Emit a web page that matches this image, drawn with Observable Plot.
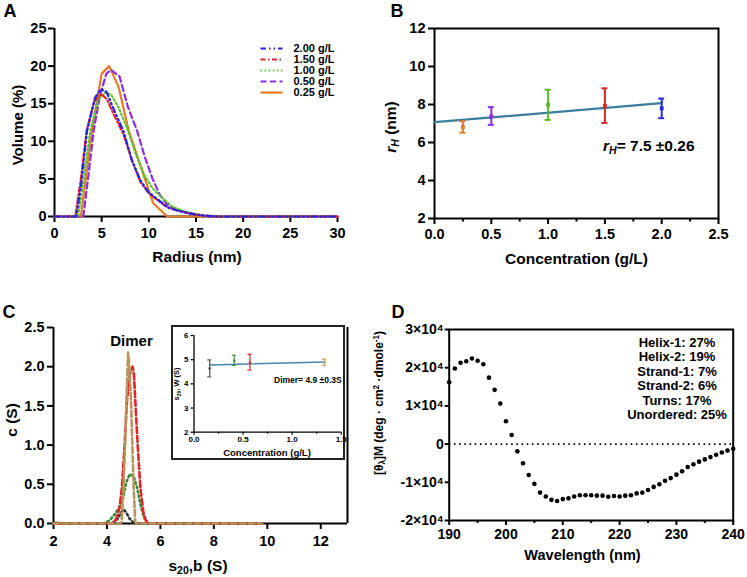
<!DOCTYPE html>
<html>
<head>
<meta charset="utf-8">
<script src="https://cdn.jsdelivr.net/npm/d3@7"></script>
<script src="https://cdn.jsdelivr.net/npm/@observablehq/plot@0.6"></script>
<style>
  html, body { margin: 0; padding: 0; background: #fff; }
  #fig { position: relative; width: 747px; height: 577px; overflow: hidden;
         font-family: "Liberation Sans", Arial, Helvetica, sans-serif; font-weight: bold; color: #000; background: #fff; }
  #fig svg text { font-weight: 700 !important; font-family: "Liberation Sans", Arial, sans-serif !important; }
  .lbl { position: absolute; white-space: nowrap; line-height: 1; }
  .lbl sub, .lbl sup { font-size: 0.68em; line-height: 0; position: relative; vertical-align: baseline; }
  .lbl sub { top: 0.3em; }
  .lbl sup { top: -0.45em; }
  #insetBox { position: absolute; box-sizing: border-box; border: 2px solid #222; background: #fff; }
</style>
</head>
<body>
<div id="fig"><div id="insetBox"></div></div>
<script>
// ---------------- DATA ----------------
// Panel A: DLS volume distributions
const seriesA = ["2.00 g/L", "1.50 g/L", "1.00 g/L", "0.50 g/L", "0.25 g/L"];
const radius200 = [0, 2.3, 2.8, 3.45, 4.3, 4.9, 5.5, 6.2, 7.3, 8.2, 9.1, 10.0, 11.0, 12.0, 13.0, 14.0, 15.0, 16.0, 17.5, 30];
const volume200 = [0, 0, 4, 11.4, 15.8, 16.9, 16.6, 14.5, 11.4, 7.5, 4.8, 3.2, 2.2, 1.2, 0.8, 0.5, 0.25, 0.1, 0, 0];
const radius150 = [0, 2.2, 2.8, 3.4, 4.2, 5.0, 5.6, 6.3, 7.3, 8.2, 9.1, 10.0, 11.0, 12.0, 13.0, 14.0, 15.0, 16.0, 17.0, 30];
const volume150 = [0, 0, 5, 11.4, 15.3, 16.3, 15.5, 13.5, 11.0, 7.5, 4.6, 3.1, 2.1, 1.2, 0.8, 0.5, 0.25, 0.1, 0, 0];
const radius100 = [0, 2.5, 3.1, 3.8, 4.6, 5.4, 6.0, 6.8, 7.8, 8.7, 9.6, 10.5, 11.5, 12.5, 13.5, 14.5, 15.5, 17.0, 18.0, 30];
const volume100 = [0, 0, 5, 11.4, 15.5, 16.5, 16.2, 14.5, 11.4, 8.0, 5.3, 3.6, 2.4, 1.3, 0.8, 0.4, 0.2, 0.05, 0, 0];
const radius050 = [0, 3.05, 3.6, 4.15, 4.8, 5.5, 6.0, 6.9, 7.8, 8.75, 9.6, 10.4, 11.2, 12.0, 13.0, 14.0, 15.0, 16.0, 17.0, 30];
const volume050 = [0, 0, 5.5, 11.4, 16.0, 19.0, 19.5, 18.6, 14.5, 11.4, 7.8, 5.0, 2.8, 1.5, 0.9, 0.5, 0.3, 0.1, 0, 0];
const radius025 = [0, 2.8, 3.97, 5.0, 5.8, 6.8, 7.87, 10.45, 11.95, 30];
const volume025 = [0, 0, 11.4, 19.0, 20.0, 17.2, 11.4, 1.8, 0, 0];
const xTicksA = [0, 5, 10, 15, 20, 25, 30];
const yTicksA = [0, 5, 10, 15, 20, 25];

// Panel B: hydrodynamic radius vs concentration
const concB = [0.25, 0.5, 1.0, 1.5, 2.0];
const rH = [6.81, 7.38, 7.98, 7.93, 7.80];
const rHLow = [6.52, 6.93, 7.19, 7.03, 7.28];
const rHHigh = [7.12, 7.86, 8.78, 8.85, 8.31];
const fitConcB = [0, 2.0];
const fitRH = [7.07, 8.07];
const xTicksB = [0, 0.5, 1.0, 1.5, 2.0, 2.5];
const xMinorB = [0.25, 0.75, 1.25, 1.75, 2.25];
const yTicksB = [2, 4, 6, 8, 10, 12];

// Panel C: sedimentation coefficient distributions
const sTan = [2.0, 4.5, 4.55, 4.62, 4.68, 4.73, 4.79, 4.84, 4.9, 4.95, 5.0, 5.06, 5.1, 9.8];
const cTan = [0, 0, 0.02, 0.46, 1.0, 1.57, 2.18, 2.0, 1.57, 1.0, 0.46, 0.02, 0, 0];
const sRed = [2.0, 4.2, 4.35, 4.47, 4.56, 4.66, 4.75, 4.85, 4.96, 5.01, 5.06, 5.15, 5.25, 5.36, 5.45, 5.55, 9.8];
const cRed = [0, 0, 0.06, 0.2, 0.46, 1.0, 1.57, 1.9, 2.0, 1.9, 1.57, 1.0, 0.46, 0.15, 0.04, 0, 0];
const sGreen = [2.0, 2.1, 2.2, 3.9, 4.1, 4.3, 4.45, 4.6, 4.72, 4.85, 5.0, 5.12, 5.25, 5.38, 5.5, 5.7, 9.8];
const cGreen = [0, 0.02, 0, 0, 0.04, 0.12, 0.2, 0.32, 0.52, 0.63, 0.6, 0.47, 0.25, 0.08, 0.01, 0, 0];
const sDark = [2.0, 4.2, 4.4, 4.55, 4.63, 4.72, 4.85, 5.0, 5.1, 9.8];
const cDark = [0, 0, 0.06, 0.15, 0.18, 0.14, 0.06, 0.01, 0, 0];
const xTicksC = [2, 4, 6, 8, 10, 12];
const yTicksC = [0, 0.5, 1.0, 1.5, 2.0, 2.5];

// Panel C inset: s20,w vs concentration
const concInset = [0.16, 0.41, 0.57, 1.33];
const sW = [4.64, 4.96, 4.87, 4.89];
const sWLow = [4.29, 4.76, 4.57, 4.77];
const sWHigh = [4.99, 5.18, 5.22, 5.02];
const fitConcInset = [0.16, 1.33];
const fitSW = [4.78, 4.90];
const xTicksInset = [0, 0.5, 1.0, 1.5];
const xMinorInset = [0.25, 0.75, 1.25];
const yTicksInset = [2, 3, 4, 5, 6];

// Panel D: CD spectrum
const wavelength = [190,191,192,193,194,195,196,197,198,199,200,201,202,203,204,205,206,207,208,209,210,
  211,212,213,214,215,216,217,218,219,220,221,222,223,224,225,226,227,228,229,230,
  231,232,233,234,235,236,237,238,239,240];
const ellipticity = [16200,19800,21300,21700,22400,21800,20900,17400,14200,10600,6000,2400,-1900,-5000,-8100,-10400,-12700,-13700,-14600,-14900,-14400,
  -14200,-13700,-13400,-13400,-13400,-13500,-13500,-13800,-13600,-13700,-13500,-13400,-12900,-12700,-12000,-11200,-10500,-9600,-8900,-8000,
  -7100,-6000,-5300,-4600,-4000,-3400,-2800,-2200,-1700,-1200];
const xTicksD = [190, 200, 210, 220, 230, 240];
const xMinorD = [195, 205, 215, 225, 235];
const yTicksD = [-20000, -10000, 0, 10000, 20000, 30000];
const structureLabels = ["Helix-1: 27%", "Helix-2: 19%", "Strand-1: 7%", "Strand-2: 6%", "Turns: 17%", "Unordered: 25%"];

// ---------------- HELPERS ----------------
const fig = document.getElementById("fig");
const FONT = '"Liberation Sans", Arial, Helvetica, sans-serif';
function sty(size) {
  return {fontFamily: FONT, fontSize: size + "px", fontWeight: "bold", color: "#000", background: "transparent", overflow: "visible"};
}
function place(node, left, top) {
  node.style.position = "absolute";
  node.style.left = left + "px";
  node.style.top = top + "px";
  fig.appendChild(node);
  return node;
}
function label(html, x, y, size, opts = {}) {
  const d = document.createElement("div");
  d.className = "lbl";
  d.innerHTML = html;
  d.style.left = x + "px";
  d.style.top = y + "px";
  d.style.fontSize = size + "px";
  let t = opts.anchor === "start" ? "translate(0,-50%)" : "translate(-50%,-50%)";
  if (opts.rotate) t += " rotate(-90deg)";
  d.style.transform = t;
  fig.appendChild(d);
  return d;
}
const zipRows = (xs, ys) => xs.map((x, i) => ({x, y: ys[i]}));
const fmt1 = d3.format(".1f");
const fmt0 = d3.format("d");

// ---------------- PANEL A ----------------
const colorsA = ["#2323e8", "#e2262b", "#5cc12f", "#8d2ce0", "#e57b26"];
const dashA = ["5.5,3,1.5,3,1.5,3", "5,2.5,1.5,2.5", "1.5,2.6", "6,3.5", null];
const rowsA = [
  zipRows(radius200, volume200), zipRows(radius150, volume150), zipRows(radius100, volume100),
  zipRows(radius050, volume050), zipRows(radius025, volume025)
];
const plotA = Plot.plot({
  width: 375, height: 290,
  marginLeft: 54, marginRight: 38, marginTop: 28, marginBottom: 74,
  x: {domain: [0, 30]}, y: {domain: [0, 25]},
  style: sty(14.5),
  marks: [
    Plot.ruleX([0], {stroke: "#000", strokeWidth: 2}),
    Plot.ruleY([0], {stroke: "#000", strokeWidth: 2}),
    Plot.axisX({ticks: xTicksA, tickSize: 6, tickPadding: 5, strokeWidth: 2, fontWeight: "bold", label: null}),
    Plot.axisY({ticks: yTicksA, tickSize: 6, tickPadding: 2, strokeWidth: 2, fontWeight: "bold", label: null}),
    ...[4, 3, 2, 1, 0].map(i => Plot.line(rowsA[i], {x: "x", y: "y", stroke: colorsA[i], strokeDasharray: dashA[i], strokeWidth: 2.2}))
  ]
});
place(plotA, 0, 0);

const legendA = Plot.plot({
  width: 110, height: 72, marginLeft: 0, marginRight: 0, marginTop: 0, marginBottom: 0,
  x: {domain: [0, 1], range: [2, 24], axis: null},
  y: {type: "point", domain: seriesA, range: [7.3, 62.7], axis: null},
  style: sty(11),
  marks: [
    ...seriesA.map((name, i) => Plot.link([name], {x1: () => 0, x2: () => 1, y1: d => d, y2: d => d,
      stroke: colorsA[i], strokeDasharray: dashA[i], strokeWidth: 2.2})),
    Plot.text(seriesA, {x: () => 1, y: d => d, text: d => d, textAnchor: "start", dx: 11, fontWeight: "bold"})
  ]
});
place(legendA, 258, 35);

label("Volume (%)", 16.5, 125, 15, {rotate: true});
label("Radius (nm)", 197, 257, 15.5);
label("A", 10, 11, 18);

// ---------------- PANEL B ----------------
const colorsB = ["#e5782a", "#8d2ce0", "#5cb82a", "#d8262a", "#2a2ae6"];
const rowsB = concB.map((c, i) => ({c, r: rH[i], lo: rHLow[i], hi: rHHigh[i], k: i}));
const plotB = Plot.plot({
  width: 372, height: 290,
  marginLeft: 59, marginRight: 29, marginTop: 28, marginBottom: 72,
  x: {domain: [0, 2.5]}, y: {domain: [2, 12]},
  style: sty(14.5),
  marks: [
    Plot.frame({stroke: "#000", strokeWidth: 2}),
    Plot.axisX({ticks: xTicksB, tickFormat: fmt1, tickSize: 6, tickPadding: 4, strokeWidth: 2, fontWeight: "bold", label: null}),
    Plot.axisX({ticks: xMinorB, tickFormat: () => "", tickSize: 3.5, strokeWidth: 2, label: null}),
    Plot.axisY({ticks: yTicksB, tickFormat: fmt0, tickSize: 6, tickPadding: 3, strokeWidth: 2, fontWeight: "bold", label: null}),
    Plot.line(zipRows(fitConcB, fitRH), {x: "x", y: "y", stroke: "#3b7d9c", strokeWidth: 2.2}),
    Plot.ruleX(rowsB, {x: "c", y1: "lo", y2: "hi", stroke: d => colorsB[d.k], strokeWidth: 2}),
    Plot.ruleY(rowsB, {y: "lo", x1: "c", x2: "c", insetLeft: -3, insetRight: -3, stroke: d => colorsB[d.k], strokeWidth: 2}),
    Plot.ruleY(rowsB, {y: "hi", x1: "c", x2: "c", insetLeft: -3, insetRight: -3, stroke: d => colorsB[d.k], strokeWidth: 2}),
    Plot.dot(rowsB, {x: "c", y: "r", symbol: "square", r: 2.2, fill: d => colorsB[d.k], stroke: "none"})
  ]
});
place(plotB, 375, 0);

label("<i>r</i><sub><i>H</i></sub> (nm)", 391, 127, 15.5, {rotate: true});
label("Concentration (g/L)", 576.5, 259, 15.5);
label("<i>r</i><sub><i>H</i></sub>= 7.5 ±0.26", 603, 146, 15.5, {anchor: "start"});
label("B", 397, 11, 18);

// ---------------- PANEL C ----------------
const linesC = [
  {rows: zipRows(sGreen, cGreen), color: "#2f8a2f", dash: "1.6,3"},
  {rows: zipRows(sDark, cDark), color: "#333333", dash: "1.6,3"},
  {rows: zipRows(sRed, cRed), color: "#e3262a", dash: "6,3"},
  {rows: zipRows(sTan, cTan), color: "#b8955c", dash: "6,3"}
];
const plotC = Plot.plot({
  width: 375, height: 287,
  marginLeft: 53, marginRight: 28, marginTop: 37, marginBottom: 54,
  x: {domain: [2, 13]}, y: {domain: [0, 2.5]},
  style: sty(14.5),
  marks: [
    Plot.ruleX([2], {stroke: "#000", strokeWidth: 2}),
    Plot.ruleX([13], {stroke: "#000", strokeWidth: 2}),
    Plot.ruleY([0], {stroke: "#000", strokeWidth: 2}),
    Plot.axisX({ticks: xTicksC, tickFormat: fmt0, tickSize: 6, tickPadding: 6, strokeWidth: 2, fontWeight: "bold", label: null}),
    Plot.axisY({ticks: yTicksC, tickFormat: fmt1, tickSize: 6, tickPadding: 3, strokeWidth: 2, fontWeight: "bold", label: null}),
    ...linesC.map(s => Plot.line(s.rows, {x: "x", y: "y", stroke: s.color, strokeDasharray: s.dash, strokeWidth: 2.6}))
  ]
});
place(plotC, 0, 290);

label("c (S)", 12, 420, 15.5, {rotate: true});
label("Dimer", 131.5, 340, 15);
label("s<sub>20</sub>,b (S)", 198, 566, 15.5);
label("C", 9, 312, 18);

// Inset
const box = document.getElementById("insetBox");
box.style.left = "171px"; box.style.top = "325px"; box.style.width = "174px"; box.style.height = "135px";
const colorsInset = ["#555555", "#3a9a3a", "#e02424", "#c9a060"];
const rowsInset = concInset.map((c, i) => ({c, s: sW[i], lo: sWLow[i], hi: sWHigh[i], k: i}));
const plotInset = Plot.plot({
  width: 173, height: 134,
  marginLeft: 22.5, marginRight: 3.3, marginTop: 10, marginBottom: 27.3,
  x: {domain: [0, 1.5]}, y: {domain: [2, 6]},
  style: sty(8),
  marks: [
    Plot.ruleX([0], {stroke: "#000", strokeWidth: 1.3}),
    Plot.ruleY([2], {stroke: "#000", strokeWidth: 1.3}),
    Plot.axisX({ticks: xTicksInset, tickFormat: fmt1, tickSize: 3, tickPadding: 1.5, strokeWidth: 1.2, fontWeight: "bold", label: null}),
    Plot.axisX({ticks: xMinorInset, tickFormat: () => "", tickSize: 2, strokeWidth: 1.2, label: null}),
    Plot.axisY({ticks: yTicksInset, tickFormat: fmt0, tickSize: 3, tickPadding: 2.5, strokeWidth: 1.2, fontWeight: "bold", label: null}),
    Plot.line(zipRows(fitConcInset, fitSW), {x: "x", y: "y", stroke: "#4a86a8", strokeWidth: 1.5}),
    Plot.ruleX(rowsInset, {x: "c", y1: "lo", y2: "hi", stroke: d => colorsInset[d.k], strokeWidth: 1.2}),
    Plot.ruleY(rowsInset, {y: "lo", x1: "c", x2: "c", insetLeft: -2, insetRight: -2, stroke: d => colorsInset[d.k], strokeWidth: 1.2}),
    Plot.ruleY(rowsInset, {y: "hi", x1: "c", x2: "c", insetLeft: -2, insetRight: -2, stroke: d => colorsInset[d.k], strokeWidth: 1.2}),
    Plot.dot(rowsInset, {x: "c", y: "s", r: 1.3, fill: d => colorsInset[d.k], stroke: "none"})
  ]
});
place(plotInset, 171, 325);
label("s<sub>20</sub>, W (S)", 177, 384, 7.5, {rotate: true});
label("Concentration (g/L)", 267, 453, 9.5);
label("Dimer= 4.9 ±0.3S", 274, 379.5, 8.5, {anchor: "start"});

// ---------------- PANEL D ----------------
const rowsD = wavelength.map((w, i) => ({w, e: ellipticity[i]}));
const fmtD = v => v === 0 ? "0" : `${v / 10000}×10⁴`;
const plotD = Plot.plot({
  width: 372, height: 287,
  marginLeft: 73.7, marginRight: 14.3, marginTop: 39, marginBottom: 57,
  x: {domain: [190, 240]}, y: {domain: [-20000, 30000]},
  style: sty(14),
  marks: [
    Plot.frame({stroke: "#000", strokeWidth: 2}),
    Plot.ruleY([0], {stroke: "#000", strokeWidth: 1.6, strokeDasharray: "1.6,3.6"}),
    Plot.axisX({ticks: xTicksD, tickFormat: fmt0, tickSize: 5, tickPadding: 4, strokeWidth: 2, fontWeight: "bold", label: null}),
    Plot.axisX({ticks: xMinorD, tickFormat: () => "", tickSize: 3, strokeWidth: 2, label: null}),
    Plot.axisY({ticks: yTicksD, tickFormat: fmtD, tickSize: 4, tickPadding: 1.5, strokeWidth: 2, fontWeight: "bold", label: null}),
    Plot.dot(rowsD, {x: "w", y: "e", r: 2.3, fill: "#000", stroke: "none"})
  ]
});
place(plotD, 375, 290);

structureLabels.forEach((t, i) => label(t, 677, 341.7 + i * 14.55, 13));
label("Wavelength (nm)", 582.5, 555, 14.5);
label("[θ<sub>λ</sub>]M (deg · cm<sup>2</sup> ·dmole<sup>-1</sup>)", 379, 403, 12, {rotate: true});
label("D", 398, 311.5, 18);
</script>
</body>
</html>
